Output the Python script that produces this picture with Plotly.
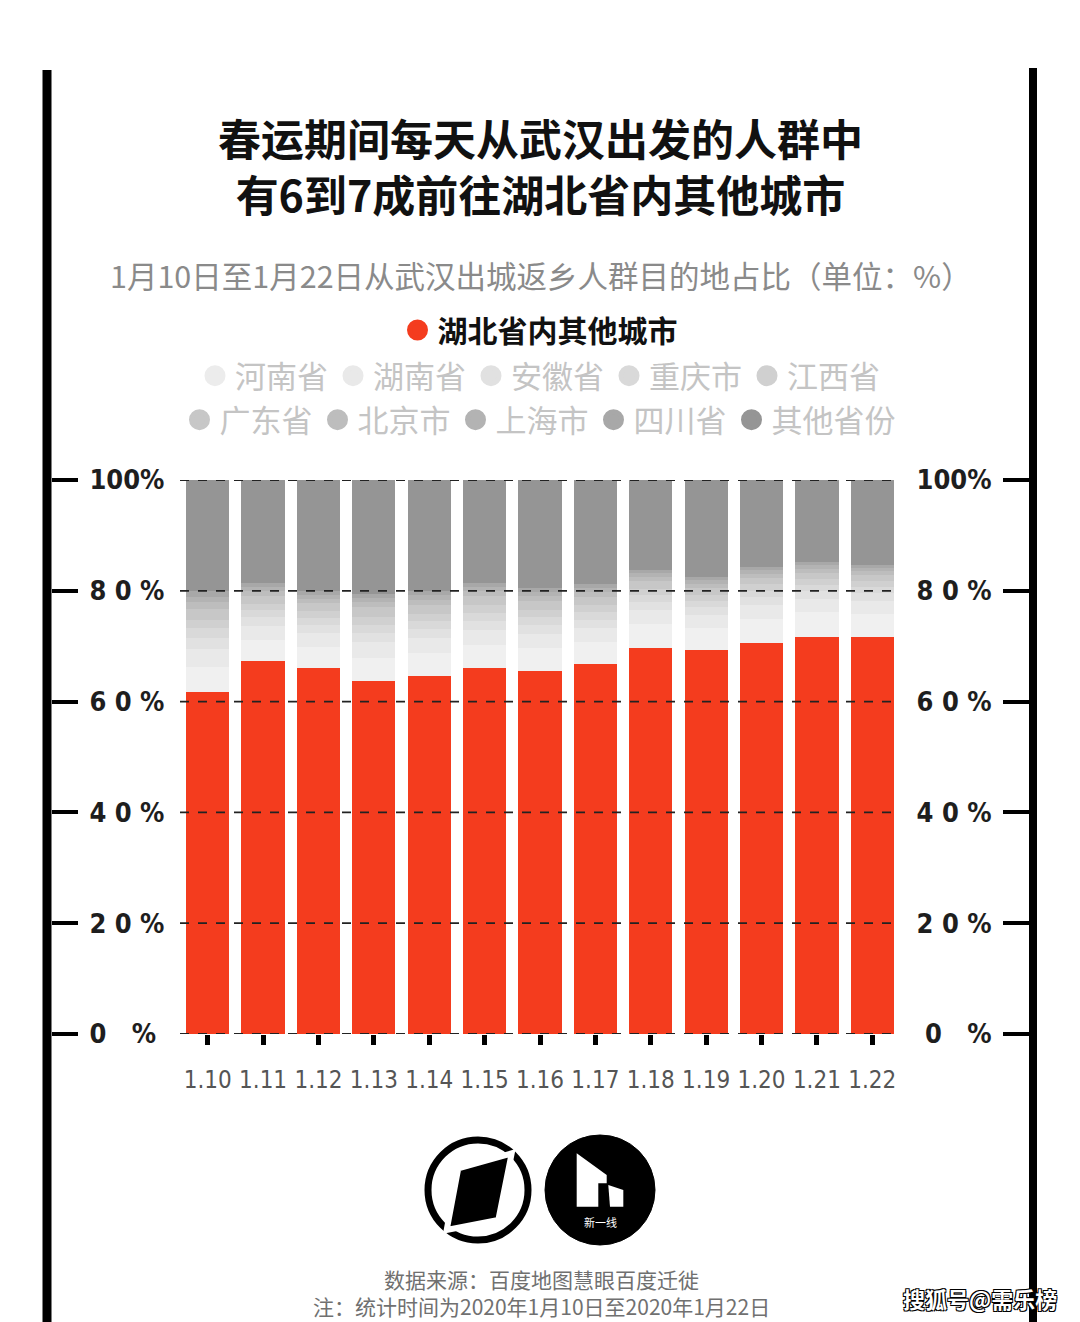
import plotly.graph_objects as go

W, H = 1080, 1322

dates = ["1.10", "1.11", "1.12", "1.13", "1.14", "1.15", "1.16",
         "1.17", "1.18", "1.19", "1.20", "1.21", "1.22"]

hubei =     [61.7, 67.3, 66.1, 63.7, 64.6, 66.1, 65.5, 66.8, 69.7, 69.3, 70.6, 71.7, 71.7]
henan =     [4.6, 3.9, 3.8, 4.2, 4.1, 4.2, 4.1, 4.0, 4.3, 4.0, 4.4, 4.5, 4.2]
hunan =     [3.2, 2.5, 2.4, 2.8, 2.7, 2.7, 2.6, 2.5, 2.5, 2.3, 2.4, 2.4, 2.3]
anhui =     [2.0, 1.5, 1.5, 1.7, 1.7, 1.6, 1.6, 1.5, 1.5, 1.4, 1.4, 1.4, 1.4]
chongqing = [1.7, 1.3, 1.3, 1.5, 1.4, 1.4, 1.4, 1.3, 1.2, 1.2, 1.2, 1.1, 1.1]
jiangxi =   [1.6, 1.2, 1.2, 1.4, 1.4, 1.4, 1.3, 1.3, 1.2, 1.1, 1.2, 1.1, 1.1]
guangdong = [2.0, 1.4, 1.5, 1.7, 1.6, 1.6, 1.6, 1.5, 1.3, 1.2, 1.2, 1.1, 1.1]
beijing =   [1.1, 0.8, 0.8, 0.9, 0.9, 0.9, 0.9, 0.9, 0.8, 0.8, 0.7, 0.7, 0.7]
shanghai =  [1.0, 0.7, 0.7, 0.8, 0.8, 0.8, 0.8, 0.7, 0.7, 0.6, 0.6, 0.6, 0.6]
sichuan =   [1.1, 0.8, 0.7, 0.8, 0.8, 0.7, 0.7, 0.7, 0.6, 0.6, 0.6, 0.6, 0.5]
others =    [20.0, 18.6, 20.0, 20.5, 20.0, 18.6, 19.5, 18.8, 16.2, 17.5, 15.7, 14.8, 15.3]

series_names = ["湖北省内其他城市", "河南省", "湖南省", "安徽省", "重庆市", "江西省",
                "广东省", "北京市", "上海市", "四川省", "其他省份"]
series_values = [hubei, henan, hunan, anhui, chongqing, jiangxi,
                 guangdong, beijing, shanghai, sichuan, others]
series_colors = ["#f43c1e", "#f0f0f0", "#e9e9e9", "#e1e1e1", "#d9d9d9", "#d0d0d0",
                 "#c7c7c7", "#bdbdbd", "#b3b3b3", "#a8a8a8", "#959595"]
legend_ids = ["legend"] + ["legend2"] * 5 + ["legend3"] * 5

ytick_vals = [0, 20, 40, 60, 80, 100]
NB = "\u00a0"
ytick_text = ["0" + NB * 3 + "%", "2" + NB + "0" + NB + "%", "4" + NB + "0" + NB + "%",
              "6" + NB + "0" + NB + "%", "8" + NB + "0" + NB + "%", "100%"]

CJK = "Noto Sans CJK SC"
NUM = "DejaVu Sans Condensed, Liberation Sans Narrow, Roboto, sans-serif"


def px(x):
    return x / W


def py(y):
    return 1 - y / H


fig = go.Figure()

for name, vals, col in zip(series_names, series_values, series_colors):
    fig.add_trace(go.Bar(x=dates, y=vals, name=name, marker=dict(color=col, line=dict(width=0)),
                         showlegend=False, hoverinfo="x+y+name"))

# legend entries as circle markers
for name, col, lg in zip(series_names, series_colors, legend_ids):
    mcol = col if name != "河南省" else "#ececec"
    fig.add_trace(go.Scatter(x=[dates[0]], y=[None], mode="markers", name=name, legend=lg,
                             marker=dict(symbol="circle", size=16, color=mcol,
                                         line=dict(width=5, color=mcol))))

# invisible trace for right axis
fig.add_trace(go.Scatter(x=[dates[0]], y=[None], yaxis="y2", showlegend=False, hoverinfo="skip"))

shapes = []
# dashed gridlines above the bars
for v in ytick_vals:
    shapes.append(dict(type="line", xref="x domain", yref="y", x0=0, x1=1, y0=v, y1=v,
                       layer="above", line=dict(color="#222", width=1.8, dash="dash")))
# frame lines
shapes.append(dict(type="line", xref="paper", yref="paper", x0=px(47), x1=px(47),
                   y0=py(70), y1=0, line=dict(color="black", width=9)))
shapes.append(dict(type="line", xref="paper", yref="paper", x0=px(1033), x1=px(1033),
                   y0=py(68), y1=0, line=dict(color="black", width=8)))

# logos
shapes.append(dict(type="circle", xref="paper", yref="paper", x0=px(428), x1=px(528),
                   y0=py(1240), y1=py(1140), line=dict(color="black", width=7)))


def path(points):
    return "M " + " L ".join(f"{px(a):.5f},{py(b):.5f}" for a, b in points) + " Z"


shapes.append(dict(type="path", xref="paper", yref="paper",
                   path=path([(458.3, 1168.3), (511.7, 1153.3), (498.3, 1220), (446.7, 1230)]),
                   fillcolor="black", line=dict(color="white", width=6)))
shapes.append(dict(type="circle", xref="paper", yref="paper", x0=px(545), x1=px(655),
                   y0=py(1245), y1=py(1135), fillcolor="black", line=dict(color="black", width=1)))
shapes.append(dict(type="path", xref="paper", yref="paper",
                   path=path([(576.7, 1153.3), (606.7, 1175), (606.7, 1183.3), (598.3, 1183.3),
                              (598.3, 1206.7), (576.7, 1206.7)]),
                   fillcolor="white", line=dict(width=0)))
shapes.append(dict(type="path", xref="paper", yref="paper",
                   path=path([(608.3, 1185), (623.3, 1190), (623.3, 1206.7), (610, 1206.7)]),
                   fillcolor="white", line=dict(width=0)))


def ann(text, x, y, size, color, weight="normal", **kw):
    return dict(text=text, x=px(x), y=py(y), xref="paper", yref="paper", showarrow=False,
                xanchor="center", yanchor="middle",
                font=dict(family=CJK, size=size, color=color, weight=weight, **kw))


annotations = [
    ann("春运期间每天从武汉出发的人群中<br>有6到7成前往湖北省内其他城市", 540, 165, 43, "#111", "bold"),
    ann("1月10日至1月22日从武汉出城返乡人群目的地占比（单位：%）", 541, 275, 30.5, "#8a8a8a"),
    ann("新一线", 600, 1222, 11, "white"),
    ann("数据来源：百度地图慧眼百度迁徙<br>注：统计时间为2020年1月10日至2020年1月22日",
        541, 1292, 21, "#707070"),
    ann("搜狐号@需乐榜", 980, 1298, 22, "white", "bold",
        shadow="1px 1px 0 #000, -1px -1px 0 #000, 1px -1px 0 #000, -1px 1px 0 #000"),
]

axis_common = dict(range=[0, 100], tickvals=ytick_vals, ticktext=ytick_text,
                   ticks="outside", ticklen=26, tickwidth=4, tickcolor="black",
                   showgrid=False, zeroline=False, showline=False, ticklabelstandoff=6,
                   automargin=False,
                   tickfont=dict(family=NUM, size=27, color="#1e1e1e", weight="bold"),
                   fixedrange=True)

fig.update_layout(
    width=W, height=H,
    margin=dict(l=0, r=0, t=0, b=0, autoexpand=False),
    paper_bgcolor="white", plot_bgcolor="white",
    barmode="stack", bargap=0.22,
    showlegend=True,
    xaxis=dict(domain=[px(180), px(900)], anchor="y", type="category",
               categoryorder="array", categoryarray=dates, range=[-0.5, len(dates) - 0.5],
               ticks="outside", ticklen=10, tickwidth=5, tickcolor="black", tickangle=0,
               showgrid=False, zeroline=False, showline=False, ticklabelstandoff=14,
               automargin=False,
               tickfont=dict(family=NUM, size=24, color="#555555"), fixedrange=True),
    yaxis=dict(domain=[1 - 1034 / H, 1 - 480 / H], anchor="free", position=px(51),
               side="right", **axis_common),
    yaxis2=dict(overlaying="y", anchor="free", position=px(1029), side="left",
                **axis_common),
    legend=dict(orientation="h", x=0.5, xanchor="center", y=py(330), yanchor="middle",
                bgcolor="rgba(0,0,0,0)", font=dict(family=CJK, size=30, color="#111", weight="bold")),
    legend2=dict(orientation="h", x=0.5, xanchor="center", y=py(376), yanchor="middle",
                 bgcolor="rgba(0,0,0,0)", font=dict(family=CJK, size=31, color="#c4c4c4")),
    legend3=dict(orientation="h", x=0.5, xanchor="center", y=py(420), yanchor="middle",
                 bgcolor="rgba(0,0,0,0)", font=dict(family=CJK, size=31, color="#c4c4c4")),
    shapes=shapes,
    annotations=annotations,
)

fig.write_html("out.html")
